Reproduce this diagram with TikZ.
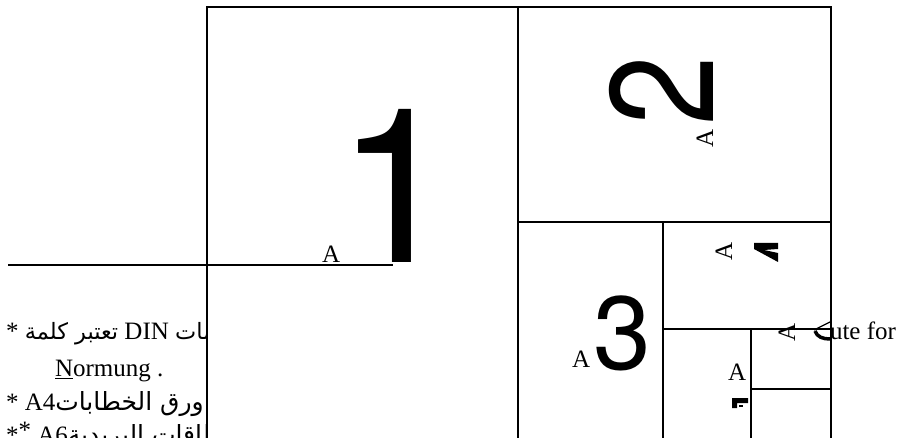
\documentclass[tikz,border=0pt]{standalone}
\usepackage{fontspec}
\setmainfont{Liberation Serif}
\newfontfamily\digitfont{TeX Gyre Heros}
\newfontfamily\arabicfont[Script=Arabic,Scale=0.9]{DejaVu Sans}
\newfontfamily\arabicwide[Script=Arabic]{DejaVu Sans}
\TeXXeTstate=1
\begin{document}
\begin{tikzpicture}[x=1pt,y=-1pt,
  txt/.style={inner sep=0pt, outer sep=0pt, font=\fontsize{25}{30}\selectfont},
  big/.style={inner sep=0pt, outer sep=0pt},
  boxline/.style={line width=2pt},
  thinline/.style={line width=1.4pt}]
\useasboundingbox (0,0) rectangle (900,438);
% text lines behind the sheet
\node[txt, anchor=base west] (l1) at (6,340) {* {\arabicfont\beginR تعتبر كلمة\endR} DIN {\arabicfont\beginR اختصار لكلمات\endR}};
\node[txt, anchor=base west] (l2) at (55,377) {\underline{N}ormung .};
\node[txt, anchor=base west] (l3) at (6,410) {* A4{\arabicwide\beginR ورق الخطابات\endR}};
\node[txt, anchor=base west] (l4) at (6,443) {*\raisebox{5pt}{*} A6{\arabicwide\beginR بطاقات البريدية\endR}};
% sheet
\fill[white] (207,7) rectangle (831,445);
\draw[boxline] (207,445) -- (207,7) -- (831,7) -- (831,445);
\draw[boxline] (518,7) -- (518,445);
\draw[thinline] (518,222) -- (831,222);
\draw[thinline] (663,222) -- (663,445);
\draw[thinline] (663,329) -- (831,329);
\draw[thinline] (751,329) -- (751,445);
\draw[thinline] (751,389) -- (831,389);
% left rule
\draw[thinline] (8,265) -- (393,265);
% A1
\node[txt, anchor=base west] (a1) at (322,263) {A};
\node[big, anchor=base west, font=\digitfont\fontsize{216}{216}\selectfont] (n1) at (336,263) {1};
% A2
\node[txt, rotate=90, anchor=base west] (a2) at (713,148) {A};
\node[big, rotate=90, anchor=base west, font=\digitfont\fontsize{147}{147}\selectfont] (n2) at (713,126) {\scalebox{0.85}[1]{2}};
% A3
\node[txt, anchor=base west] (a3) at (572,368) {A};
\node[big, anchor=base west, font=\digitfont\fontsize{104}{104}\selectfont] (n3) at (593,370) {3};
% A4
\node[txt, rotate=90, anchor=base west] (a4) at (732,261) {A};
\fill (754,243) -- (778,243) -- (778,249) -- (764,250) -- (778,253) -- (778,262) -- (754,249) -- cycle;
% A5
\node[txt, anchor=base west] (a5) at (728,381) {A};
\fill (732,398) -- (748,398) -- (748,403) -- (737,403) -- (737,408) -- (732,408) -- cycle;
\fill (739,405) rectangle (743,407);
% A6
\node[txt, rotate=90, anchor=base west] (a6) at (795,342) {A};
\draw[line width=1.2pt] (830,322) -- (814,330);
\draw[line width=3.5pt] (815,331) .. controls (817,337) and (823,339) .. (830,339);
\node[txt, anchor=base west] (u) at (830,340) {ute for};
\end{tikzpicture}
\end{document}
